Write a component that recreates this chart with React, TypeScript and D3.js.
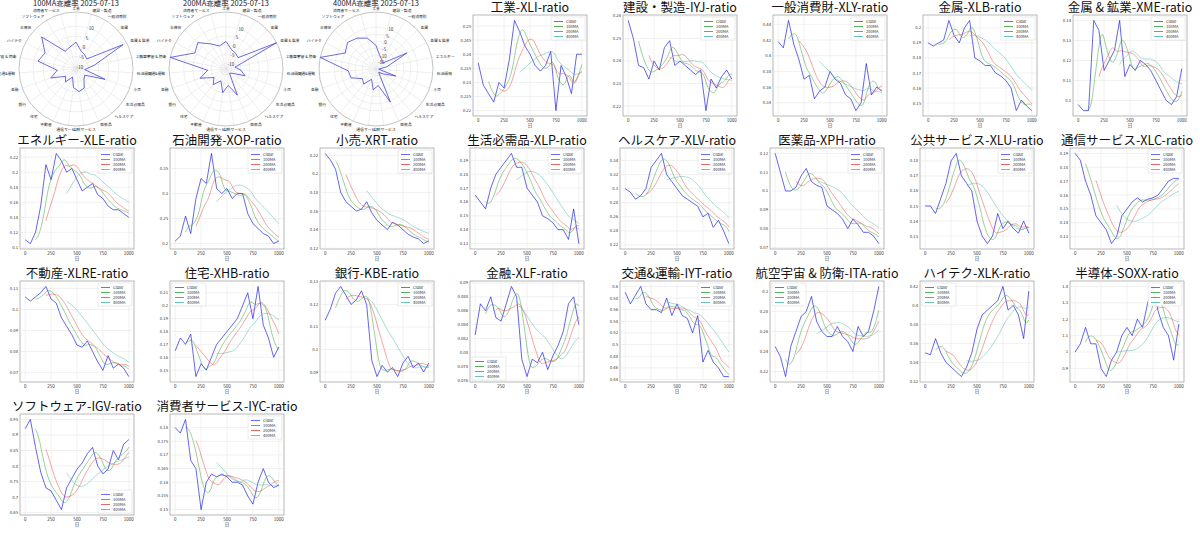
import React from "react";
import * as d3 from "d3";

const radarCats = ["工業","建設・製造","一般消費財","金属","金属 & 鉱業","エネルギー","石油開発","小売","生活必需品","ヘルスケア","医薬品","公共サービス","通信サービス","不動産","住宅","銀行","金融","交通&運輸","航空宇宙 & 防衛","ハイテク","半導体","ソフトウェア","消費者サービス"];
const radar100 = [2,-2,-3,-4,15,-2,-7,4,-6,-5,-1,0,-2,-7,-3,-5,2,-2,8,6,12,-1,0];
const radar200 = [2,-2,-3,-4,18,-8,-5,-2,-9,-10,2.5,-4,0,-6,-2,-5,2,-3,18,6,8,3,0];
const radar400 = [-3,-10,-12,-14,5,-12,-18,-5,-14,-17,6,-8,-5,-12,-6,-8,-1,0,21,5,8,6,3];
const radarTitles = ["100MA乖離率 2025-07-13","200MA乖離率 2025-07-13","400MA乖離率 2025-07-13"];
const radarDomains = [[-11.3,17],[-13,18],[-20,21]];
const radarTicks = [[-10,-5,0,5,10],[-10,-5,0,5,10],[-15,-10,-5,0,5,10]];

const xDays = [0,50,100,150,200,250,300,350,400,450,500,550,600,650,700,750,800,850,900,950,1000];
const titles = ["工業-XLI-ratio","建設・製造-IYJ-ratio","一般消費財-XLY-ratio","金属-XLB-ratio","金属 & 鉱業-XME-ratio","エネルギー-XLE-ratio","石油開発-XOP-ratio","小売-XRT-ratio","生活必需品-XLP-ratio","ヘルスケア-XLV-ratio","医薬品-XPH-ratio","公共サービス-XLU-ratio","通信サービス-XLC-ratio","不動産-XLRE-ratio","住宅-XHB-ratio","銀行-KBE-ratio","金融-XLF-ratio","交通&運輸-IYT-ratio","航空宇宙 & 防衛-ITA-ratio","ハイテク-XLK-ratio","半導体-SOXX-ratio","ソフトウェア-IGV-ratio","消費者サービス-IYC-ratio"];
const XLI = [0.237,0.229,0.226,0.223,0.230,0.228,0.238,0.252,0.248,0.243,0.240,0.236,0.234,0.236,0.241,0.220,0.236,0.232,0.226,0.240,0.240];
const IYJ = [0.258,0.250,0.238,0.237,0.232,0.240,0.236,0.246,0.249,0.238,0.240,0.238,0.236,0.234,0.236,0.218,0.232,0.228,0.233,0.236,0.232];
const XLY = [0.418,0.410,0.445,0.415,0.395,0.370,0.375,0.345,0.355,0.360,0.380,0.370,0.365,0.350,0.345,0.330,0.340,0.390,0.350,0.360,0.355];
const XLB = [0.190,0.188,0.190,0.192,0.205,0.195,0.190,0.200,0.205,0.180,0.178,0.175,0.175,0.170,0.168,0.165,0.160,0.145,0.152,0.148,0.145];
const XME = [0.098,0.095,0.095,0.140,0.135,0.115,0.120,0.125,0.140,0.112,0.118,0.115,0.120,0.118,0.115,0.110,0.105,0.100,0.098,0.102,0.116];
const XLE = [0.110,0.105,0.120,0.155,0.210,0.190,0.225,0.215,0.200,0.205,0.190,0.175,0.180,0.185,0.170,0.165,0.155,0.150,0.150,0.145,0.140];
const XOP = [0.205,0.215,0.255,0.220,0.290,0.330,0.320,0.380,0.310,0.300,0.310,0.290,0.300,0.300,0.260,0.240,0.230,0.220,0.215,0.200,0.205];
const XRT = [0.222,0.215,0.205,0.180,0.170,0.165,0.160,0.162,0.170,0.158,0.150,0.145,0.140,0.148,0.145,0.140,0.135,0.132,0.130,0.125,0.128];
const XLP = [0.165,0.160,0.155,0.170,0.180,0.185,0.190,0.195,0.185,0.185,0.170,0.165,0.160,0.150,0.148,0.145,0.140,0.140,0.133,0.155,0.130];
const XLV = [0.300,0.295,0.285,0.290,0.300,0.330,0.340,0.350,0.320,0.310,0.300,0.290,0.285,0.280,0.275,0.260,0.265,0.245,0.255,0.240,0.222];
const XPH = [0.120,0.110,0.100,0.100,0.102,0.108,0.112,0.105,0.103,0.102,0.092,0.090,0.088,0.085,0.080,0.085,0.082,0.078,0.078,0.076,0.072];
const XLU = [0.150,0.150,0.145,0.155,0.165,0.180,0.185,0.170,0.165,0.160,0.140,0.130,0.125,0.130,0.145,0.135,0.140,0.135,0.132,0.140,0.132];
const XLC = [0.190,0.185,0.170,0.160,0.145,0.140,0.135,0.125,0.130,0.145,0.150,0.155,0.158,0.155,0.157,0.158,0.160,0.165,0.170,0.172,0.172];
const XLRE = [0.106,0.104,0.106,0.108,0.111,0.105,0.103,0.096,0.092,0.088,0.083,0.082,0.085,0.080,0.075,0.071,0.078,0.072,0.074,0.072,0.068];
const XHB = [0.165,0.175,0.170,0.178,0.145,0.155,0.150,0.160,0.170,0.175,0.180,0.185,0.190,0.200,0.210,0.190,0.215,0.185,0.175,0.160,0.168];
const KBE = [0.113,0.118,0.125,0.128,0.124,0.120,0.122,0.126,0.120,0.095,0.088,0.093,0.090,0.092,0.088,0.094,0.097,0.092,0.094,0.090,0.094];
const XLF = [0.0825,0.0870,0.0860,0.0880,0.0850,0.0845,0.0870,0.0895,0.0880,0.0790,0.0765,0.0790,0.0785,0.0800,0.0775,0.0795,0.0810,0.0830,0.0870,0.0880,0.0840];
const IYT = [0.590,0.570,0.585,0.600,0.570,0.560,0.560,0.555,0.580,0.550,0.570,0.550,0.545,0.520,0.550,0.470,0.490,0.470,0.460,0.445,0.445];
const ITA = [0.245,0.235,0.215,0.245,0.260,0.275,0.280,0.295,0.270,0.260,0.255,0.255,0.265,0.255,0.250,0.240,0.265,0.255,0.260,0.280,0.305];
const XLK = [0.350,0.348,0.365,0.350,0.340,0.335,0.330,0.325,0.335,0.350,0.375,0.390,0.395,0.400,0.405,0.420,0.395,0.400,0.390,0.365,0.415];
const SOXX = [1.00,1.05,1.15,1.05,1.05,0.90,0.85,0.95,1.00,1.10,1.15,1.10,1.20,1.15,1.30,1.40,1.25,1.15,1.10,0.95,1.17];
const IGV = [0.920,0.950,0.860,0.780,0.730,0.720,0.690,0.660,0.730,0.760,0.790,0.810,0.840,0.860,0.800,0.775,0.790,0.850,0.820,0.870,0.885];
const IYC = [0.180,0.178,0.183,0.168,0.165,0.150,0.160,0.163,0.162,0.163,0.162,0.160,0.160,0.159,0.155,0.152,0.160,0.165,0.160,0.158,0.159];
const seriesList = [XLI,IYJ,XLY,XLB,XME,XLE,XOP,XRT,XLP,XLV,XPH,XLU,XLC,XLRE,XHB,KBE,XLF,IYT,ITA,XLK,SOXX,IGV,IYC];
const legendPos = ["tr","tr","tr","tr","tr","tr","tr","tr","tr","tr","tr","tr","tr","tr","tl","tr","bl","tr","tl","tl","tr","br","tr"];
const maWindows = [100,200,400];
const maColors = ["#2ca02c","#e8413c","#3fb5a8"];

const FONT = "'Noto Sans CJK JP', 'Noto Sans', sans-serif";

function movingAvg(vals: number[], w: number) {
  const f = (x: number) => {
    const i = Math.min(xDays.length - 2, Math.floor(x / 50));
    const t = (x - xDays[i]) / 50;
    return vals[i] * (1 - t) + vals[i + 1] * t;
  };
  const out: [number, number][] = [];
  for (let x = w; x <= 1000; x += 10) {
    let s = 0, n = 0;
    for (let k = x - w; k <= x; k += 5) { s += f(k); n++; }
    out.push([x, s / n]);
  }
  return out;
}

function Radar({ idx, x0, y0 }: { idx: number; x0: number; y0: number }) {
  const vals = [radar100, radar200, radar400][idx];
  const [lo, hi] = radarDomains[idx];
  const R = 57;
  const cx = x0 + 76, cy = y0 + 69;
  const r = d3.scaleLinear().domain([lo, hi]).range([0, R]);
  const n = radarCats.length;
  const ang = (i: number) => (i / n) * 2 * Math.PI;
  const line = d3.lineRadial<number>().angle((_, i) => ang(i)).radius(v => r(v)).curve(d3.curveLinearClosed);
  return (
    <g>
      <text x={cx} y={y0 + 6} fontSize={7.5} textAnchor="middle" fontFamily={FONT} fill="#222">{radarTitles[idx]}</text>
      <g transform={`translate(${cx},${cy})`}>
        {radarTicks[idx].map(t => <circle key={t} r={r(t)} fill="none" stroke="#e4e4e4" strokeWidth={0.6} />)}
        {d3.range(n).map(i => (
          <line key={i} x1={0} y1={0} x2={R * Math.sin(ang(i))} y2={-R * Math.cos(ang(i))} stroke="#e4e4e4" strokeWidth={0.6} />
        ))}
        <circle r={R} fill="none" stroke="#aaa" strokeWidth={0.7} />
        {radarTicks[idx].map(t => (
          <text key={"l" + t} x={r(t) * Math.sin(0.3)} y={-r(t) * Math.cos(0.3) + 2} fontSize={4.5} fontFamily={FONT} fill="#333">{t}</text>
        ))}
        <path d={line(vals) || ""} fill="none" stroke="#4646d8" strokeWidth={0.8} />
        {radarCats.map((c, i) => {
          const a = ang(i);
          const lx = 61 * Math.sin(a), ly = -61 * Math.cos(a);
          const anchor = Math.abs(Math.sin(a)) < 0.15 ? "middle" : Math.sin(a) > 0 ? "start" : "end";
          return <text key={c} x={lx} y={ly + 1.5} fontSize={3.8} textAnchor={anchor} fontFamily={FONT} fill="#222">{c}</text>;
        })}
      </g>
    </g>
  );
}

function Panel({ idx, x0, y0 }: { idx: number; x0: number; y0: number }) {
  const vals = seriesList[idx];
  const left = x0 + 20, right = x0 + 134, top = y0 + 15, bottom = y0 + 116;
  const x = d3.scaleLinear().domain([-50, 1050]).range([left, right]);
  const [mn, mx] = d3.extent(vals) as [number, number];
  const pad = (mx - mn) * 0.06;
  const y = d3.scaleLinear().domain([mn - pad, mx + pad]).range([bottom, top]);
  const yt = y.ticks(6);
  const fmt = d3.format(".4~f");
  const ln = d3.line<[number, number]>().x(d => x(d[0])).y(d => y(d[1]));
  const close = xDays.map((d, i) => [d, vals[i]] as [number, number]);
  const pos = legendPos[idx];
  const lw = 34, lh = 23;
  const lx = pos.endsWith("r") ? right - lw - 2 : left + 2;
  const ly = pos.startsWith("t") ? top + 2 : bottom - lh - 2;
  const labels = ["Close", "100MA", "200MA", "400MA"];
  const cols = ["#4444ff", ...maColors];
  return (
    <g>
      <text x={(left + right) / 2} y={y0 + 12} fontSize={12.5} textAnchor="middle" fontFamily={FONT} fill="#111">{titles[idx]}</text>
      <rect x={left} y={top} width={right - left} height={bottom - top} fill="white" stroke="#888" strokeWidth={0.6} />
      {[0, 250, 500, 750, 1000].map(t => (
        <g key={t}>
          <line x1={x(t)} x2={x(t)} y1={top} y2={bottom} stroke="#e2e2e2" strokeWidth={0.5} />
          <text x={x(t)} y={bottom + 6} fontSize={4.5} textAnchor="middle" fontFamily={FONT} fill="#333">{t}</text>
        </g>
      ))}
      {yt.map(t => (
        <g key={t}>
          <line x1={left} x2={right} y1={y(t)} y2={y(t)} stroke="#e2e2e2" strokeWidth={0.5} />
          <text x={left - 2} y={y(t) + 1.5} fontSize={4.2} textAnchor="end" fontFamily={FONT} fill="#333">{fmt(t)}</text>
        </g>
      ))}
      <text x={(left + right) / 2} y={bottom + 11} fontSize={4.5} textAnchor="middle" fontFamily={FONT} fill="#333">日</text>
      <path d={ln(close) || ""} fill="none" stroke="#1a1aee" strokeWidth={0.8} opacity={0.85} />
      {maWindows.map((w, k) => (
        <path key={w} d={ln(movingAvg(vals, w)) || ""} fill="none" stroke={maColors[k]} strokeWidth={0.6} opacity={0.8} />
      ))}
      <rect x={lx} y={ly} width={lw} height={lh} fill="white" stroke="#ccc" strokeWidth={0.4} opacity={0.9} />
      {labels.map((l, k) => (
        <g key={l}>
          <line x1={lx + 3} x2={lx + 12} y1={ly + 4.5 + k * 5} y2={ly + 4.5 + k * 5} stroke={cols[k]} strokeWidth={0.8} />
          <text x={lx + 15} y={ly + 6 + k * 5} fontSize={4} fontFamily={FONT} fill="#333">{l}</text>
        </g>
      ))}
    </g>
  );
}

export default function App() {
  const cells: { kind: string; idx: number; col: number; row: number }[] = [];
  for (let i = 0; i < 3; i++) cells.push({ kind: "r", idx: i, col: i, row: 0 });
  for (let i = 0; i < 23; i++) {
    const k = i + 3;
    cells.push({ kind: "p", idx: i, col: k % 8, row: Math.floor(k / 8) });
  }
  return (
    <svg width={1200} height={533} style={{ position: "absolute", left: 0, top: 0, background: "white" }}>
      {cells.map(c => c.kind === "r"
        ? <Radar key={"r" + c.idx} idx={c.idx} x0={c.col * 150} y0={0} />
        : <Panel key={"p" + c.idx} idx={c.idx} x0={c.col * 150 + (c.row === 0 ? 3 : 0)} y0={c.row * 133} />)}
    </svg>
  );
}
